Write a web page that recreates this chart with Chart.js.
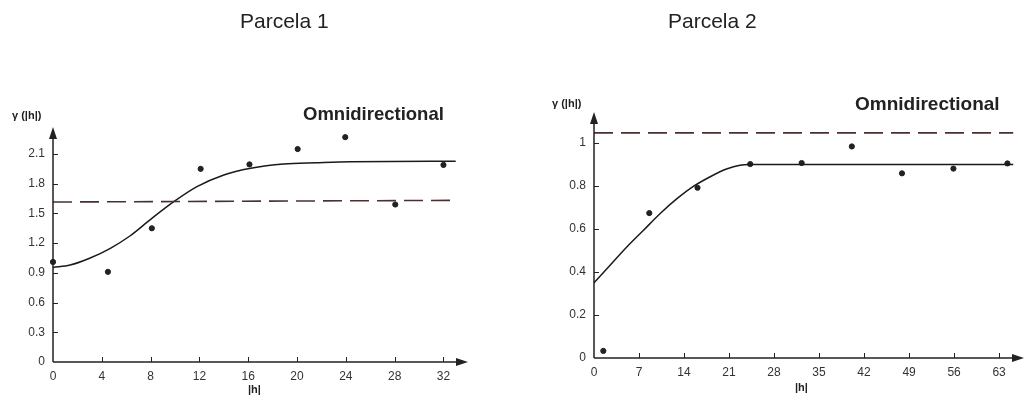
<!DOCTYPE html>
<html>
<head>
<meta charset="utf-8">
<script src="https://cdn.jsdelivr.net/npm/chart.js@4"></script>
<style>
body { margin: 0; background: #fff; width: 1026px; height: 401px; position: relative; overflow: hidden; font-family: "Liberation Sans", Arial, sans-serif; color: #222; }
.box { position: absolute; top: 0; width: 513px; height: 401px; }
.lbl { position: absolute; line-height: 1; white-space: nowrap; }
.title { font-size: 21px; }
.omni { font-weight: bold; font-size: 18.5px; }
.small { font-weight: bold; font-size: 11px; }
</style>
</head>
<body>
<div class="box" style="left:0"><canvas id="chart1" width="513" height="401"></canvas></div>
<div class="box" style="left:513px"><canvas id="chart2" width="513" height="401"></canvas></div>

<div class="lbl title" style="left:240px;top:10px">Parcela 1</div>
<div class="lbl title" style="left:668px;top:10px">Parcela 2</div>
<div class="lbl omni" style="left:303px;top:105px">Omnidirectional</div>
<div class="lbl omni" style="left:855px;top:94px;font-size:19px">Omnidirectional</div>
<div class="lbl small" style="left:12px;top:110px">γ (|h|)</div>
<div class="lbl small" style="left:552px;top:98px">γ (|h|)</div>
<div class="lbl small" style="left:248px;top:384px">|h|</div>
<div class="lbl small" style="left:795px;top:382px">|h|</div>

<script>
// Parcela 1
const xTicks1 = [0, 4, 8, 12, 16, 20, 24, 28, 32];
const yTicks1 = [0, 0.3, 0.6, 0.9, 1.2, 1.5, 1.8, 2.1];
const lagPts1 = [0, 4.5, 8.1, 12.1, 16.1, 20.05, 23.95, 28.05, 32];
const gammaPts1 = [1.01, 0.91, 1.35, 1.95, 1.995, 2.15, 2.27, 1.59, 1.99];
const lagModel1 = [0, 1.4, 3.0, 4.7, 6.3, 8.0, 9.9, 11.8, 14.0, 16.2, 18.9, 21.6, 24.4, 33];
const gammaModel1 = [0.955, 0.979, 1.047, 1.148, 1.272, 1.44, 1.618, 1.77, 1.888, 1.955, 1.999, 2.012, 2.022, 2.026];
const sillLag1 = [0, 33];
const sill1 = [1.615, 1.632];

// Parcela 2
const xTicks2 = [0, 7, 14, 21, 28, 35, 42, 49, 56, 63];
const yTicks2 = [0, 0.2, 0.4, 0.6, 0.8, 1];
const lagPts2 = [1.45, 8.6, 16.1, 24.3, 32.3, 40.1, 47.9, 55.9, 64.3];
const gammaPts2 = [0.033, 0.674, 0.792, 0.902, 0.907, 0.984, 0.859, 0.881, 0.905];
const lagModel2 = [0, 2.5, 5.1, 7.7, 10.3, 12.9, 15.5, 18.0, 20.6, 22.7, 24.3, 65.2];
const gammaModel2 = [0.35, 0.431, 0.516, 0.594, 0.672, 0.741, 0.799, 0.842, 0.879, 0.897, 0.9, 0.9];
const sillLag2 = [0, 65.2];
const sill2 = [1.047, 1.047];

Chart.defaults.font.family = '"Liberation Sans", Arial, sans-serif';
Chart.defaults.font.size = 12;
Chart.defaults.color = '#333';

let toPoints = function (xs, ys) {
    return xs.map((x, i) => ({ x: x, y: ys[i] }));
}

// axis lines with arrows and small inside tick marks
const axisArrows = {
    id: 'axisArrows',
    afterDraw(chart) {
        const { ctx, chartArea: a, scales } = chart;
        ctx.save();
        ctx.strokeStyle = '#222';
        ctx.fillStyle = '#222';
        ctx.lineWidth = 1.5;
        ctx.beginPath();
        ctx.moveTo(a.left, a.bottom);
        ctx.lineTo(a.left, a.top);
        ctx.moveTo(a.left, a.bottom);
        ctx.lineTo(a.right, a.bottom);
        ctx.stroke();

        ctx.beginPath();
        ctx.moveTo(a.left, a.top - 5);
        ctx.lineTo(a.left - 4, a.top + 7);
        ctx.lineTo(a.left + 4, a.top + 7);
        ctx.closePath();
        ctx.fill();

        ctx.beginPath();
        ctx.moveTo(a.right + 5, a.bottom);
        ctx.lineTo(a.right - 7, a.bottom - 4);
        ctx.lineTo(a.right - 7, a.bottom + 4);
        ctx.closePath();
        ctx.fill();

        ctx.lineWidth = 1;
        ctx.beginPath();
        scales.y.ticks.forEach(t => {
            if (t.value === 0) return;
            let y = Math.round(scales.y.getPixelForValue(t.value)) + 0.5;
            ctx.moveTo(a.left, y);
            ctx.lineTo(a.left + 5, y);
        });
        scales.x.ticks.forEach(t => {
            if (t.value === 0) return;
            let x = Math.round(scales.x.getPixelForValue(t.value)) + 0.5;
            ctx.moveTo(x, a.bottom);
            ctx.lineTo(x, a.bottom - 5);
        });
        ctx.stroke();
        ctx.restore();
    }
};

let createChart = function (id, opts) {
    const ctx = document.getElementById(id);

    new Chart(ctx, {
        type: 'scatter',
        data: {
            datasets: [
            {
                data: toPoints(opts.sillLag, opts.sill),
                showLine: true,
                borderColor: '#4a3030',
                borderWidth: 1.6,
                borderDash: [19, 8],
                pointRadius: 0,
                clip: false
            },
            {
                data: toPoints(opts.lagModel, opts.gammaModel),
                showLine: true,
                borderColor: '#1a1a1a',
                borderWidth: 1.5,
                cubicInterpolationMode: 'monotone',
                pointRadius: 0,
                clip: false
            },
            {
                data: toPoints(opts.lagPts, opts.gammaPts),
                backgroundColor: '#222',
                borderColor: '#222',
                pointRadius: 2.6,
                clip: false
            }
        ]
        },
        options: {
            responsive: false,
            animation: false,
            layout: {
                padding: { left: 0, top: opts.top, right: opts.right, bottom: 0 }
            },
            plugins: {
                legend: { display: false },
                tooltip: { enabled: false }
            },
            scales: {
                x: {
                    type: 'linear',
                    min: 0,
                    max: opts.xMax,
                    grid: { display: false, drawTicks: false },
                    border: { display: false },
                    ticks: { padding: 7, callback: v => String(+v.toFixed(2)) },
                    afterBuildTicks: s => { s.ticks = opts.xTicks.map(v => ({ value: v })); },
                    afterFit: s => { s.height = opts.xHeight; }
                },
                y: {
                    min: 0,
                    max: opts.yMax,
                    grid: { display: false, drawTicks: false },
                    border: { display: false },
                    ticks: { padding: 8, callback: v => String(+v.toFixed(2)) },
                    afterBuildTicks: s => { s.ticks = opts.yTicks.map(v => ({ value: v })); },
                    afterFit: s => { s.width = opts.yWidth; }
                }
            }
        },
        plugins: [axisArrows]
    });
}

createChart('chart1', {
    xTicks: xTicks1, yTicks: yTicks1,
    lagPts: lagPts1, gammaPts: gammaPts1,
    lagModel: lagModel1, gammaModel: gammaModel1,
    sillLag: sillLag1, sill: sill1,
    xMax: 33.6, yMax: 2.322,
    top: 132, right: 50, xHeight: 39, yWidth: 53
});

createChart('chart2', {
    xTicks: xTicks2, yTicks: yTicks2,
    lagPts: lagPts2, gammaPts: gammaPts2,
    lagModel: lagModel2, gammaModel: gammaModel2,
    sillLag: sillLag2, sill: sill2,
    xMax: 66.1, yMax: 1.121,
    top: 117, right: 7, xHeight: 43, yWidth: 81
});
</script>
</body>
</html>
